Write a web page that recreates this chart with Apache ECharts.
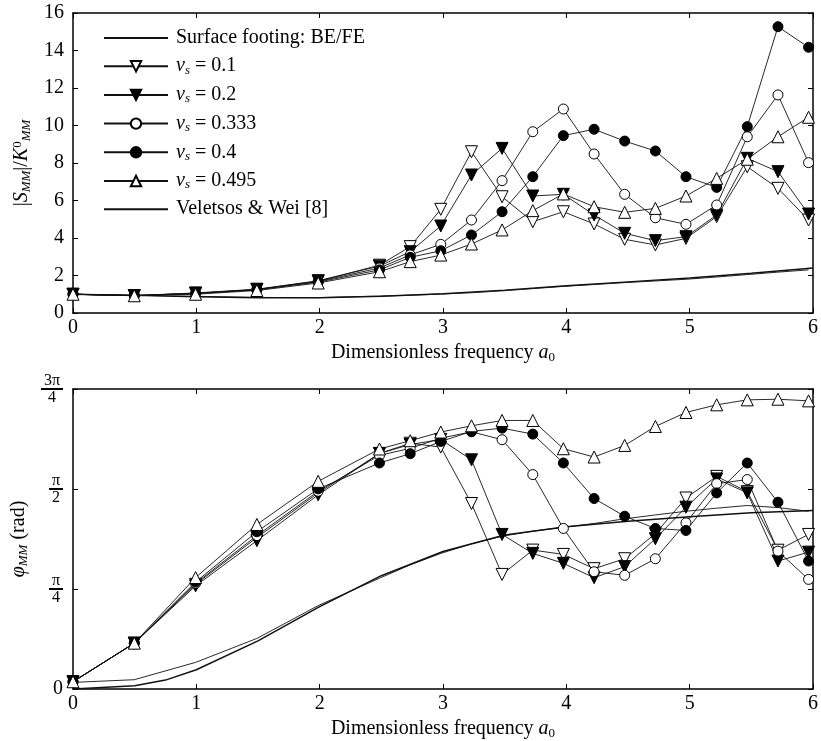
<!DOCTYPE html>
<html><head><meta charset="utf-8">
<script src="https://cdn.jsdelivr.net/npm/echarts@6/dist/echarts.min.js"></script>
<style>html,body{margin:0;padding:0;background:#fff}#c{width:821px;height:741px}</style>
</head><body><div id="c"></div>
<script>
// ---- data ----
const freq = [0, 0.497, 0.994, 1.491, 1.988, 2.485, 2.734, 2.982, 3.231, 3.479, 3.728, 3.976, 4.225, 4.473, 4.722, 4.970, 5.219, 5.467, 5.716, 5.964];
const velFreq = [0, 0.5, 0.75, 1, 1.5, 2, 2.5, 3, 3.5, 4, 4.5, 5, 5.5, 6];

const seriesNames = ['Surface footing: BE/FE', 'ν_s = 0.1', 'ν_s = 0.2', 'ν_s = 0.333', 'ν_s = 0.4', 'ν_s = 0.495', 'Veletsos & Wei [8]'];

// |S_MM| / K0_MM
const magBEFE  = [1.0, 0.95, 0.89, 0.83, 0.82, 0.90, 0.95, 1.01, 1.08, 1.18, 1.30, 1.42, 1.52, 1.62, 1.71, 1.80, 1.92, 2.05, 2.18, 2.30];
const magNu01  = [1.0, 0.93, 1.05, 1.25, 1.70, 2.55, 3.54, 5.53, 8.60, 6.20, 4.87, 5.40, 4.75, 3.93, 3.63, 3.98, 5.14, 7.80, 6.65, 4.96];
const magNu02  = [1.0, 0.93, 1.07, 1.27, 1.72, 2.50, 3.27, 4.64, 7.36, 8.78, 6.24, 6.33, 5.23, 4.25, 3.86, 4.07, 5.23, 8.25, 7.54, 5.28];
const magNu0333= [1.0, 0.93, 1.05, 1.25, 1.68, 2.40, 3.10, 3.66, 4.96, 7.06, 9.67, 10.88, 8.48, 6.33, 5.08, 4.73, 5.76, 9.40, 11.63, 8.02];
const magNu04  = [1.0, 0.93, 1.04, 1.24, 1.65, 2.30, 2.97, 3.32, 4.16, 5.40, 7.27, 9.46, 9.80, 9.17, 8.64, 7.27, 6.70, 9.94, 15.27, 14.17];
const magNu0495= [1.0, 0.92, 1.00, 1.20, 1.60, 2.20, 2.74, 3.09, 3.68, 4.43, 5.46, 6.35, 5.67, 5.37, 5.58, 6.24, 7.18, 8.20, 9.40, 10.44];
const magVel   = [1.0, 0.94, 0.90, 0.87, 0.81, 0.81, 0.89, 1.03, 1.22, 1.45, 1.66, 1.87, 2.12, 2.40];

// phi_MM (rad)
const phBEFE   = [0.052, 0.073, 0.209, 0.397, 0.655, 0.870, 0.975, 1.065, 1.140, 1.200, 1.240, 1.270, 1.300, 1.337, 1.367, 1.396, 1.420, 1.441, 1.425, 1.396];
const phNu01   = [0.057, 0.36, 0.822, 1.19, 1.54, 1.85, 1.93, 1.90, 1.457, 0.90, 1.091, 1.057, 0.945, 1.023, 1.22, 1.50, 1.67, 1.55, 1.09, 1.214];
const phNu02   = [0.057, 0.36, 0.81, 1.165, 1.525, 1.85, 1.92, 1.96, 1.80, 1.214, 1.065, 0.987, 0.874, 0.961, 1.18, 1.428, 1.65, 1.54, 1.005, 1.075];
const phNu0333 = [0.057, 0.36, 0.83, 1.205, 1.553, 1.835, 1.89, 1.97, 2.02, 1.958, 1.684, 1.261, 0.921, 0.893, 1.023, 1.305, 1.613, 1.645, 1.083, 0.861];
const phNu04   = [0.057, 0.36, 0.84, 1.235, 1.572, 1.775, 1.848, 1.944, 2.023, 2.049, 2.002, 1.775, 1.496, 1.357, 1.261, 1.245, 1.54, 1.775, 1.467, 1.005];
const phNu0495 = [0.057, 0.36, 0.875, 1.292, 1.631, 1.885, 1.95, 2.018, 2.067, 2.109, 2.109, 1.887, 1.822, 1.913, 2.062, 2.172, 2.232, 2.271, 2.276, 2.263];
const phVel    = [0, 0.026, 0.07, 0.151, 0.378, 0.647, 0.89, 1.08, 1.21, 1.275, 1.318, 1.352, 1.384, 1.402];

const xTicks = [0, 1, 2, 3, 4, 5, 6];
const magTicks = [0, 2, 4, 6, 8, 10, 12, 14, 16];
const phaseTickLabels = ['0', 'π/4', 'π/2', '3π/4'];

// ---- styling ----
const F = 'Liberation Serif, Times New Roman, serif';
const LC = '#111';
const LABEL_MARGIN = 10;
const markerStyles = [
  null,
  { symbol: 'triangle', rotate: 180, fill: '#fff', size: 12 },
  { symbol: 'triangle', rotate: 180, fill: '#000', size: 12 },
  { symbol: 'circle', rotate: 0, fill: '#fff', size: 10 },
  { symbol: 'circle', rotate: 0, fill: '#000', size: 10 },
  { symbol: 'triangle', rotate: 0, fill: '#fff', size: 12 },
  null
];

function pairs(xs, ys) { return xs.map((x, i) => [x, ys[i]]); }

function mk(idx, xs, ys, gi) {
  const ms = markerStyles[idx];
  const s = {
    name: seriesNames[idx], type: 'line', xAxisIndex: gi * 2, yAxisIndex: gi * 2,
    data: pairs(xs, ys), animation: false, z: 3,
    lineStyle: { color: LC, width: idx === 6 ? 1.5 : 0.9 }
  };
  if (ms) {
    s.symbol = ms.symbol; s.symbolSize = ms.size; s.symbolRotate = ms.rotate;
    s.showSymbol = true;
    s.itemStyle = { color: ms.fill, borderColor: '#000', borderWidth: 1 };
    s.z = 4;
  } else {
    s.symbol = 'none'; s.showSymbol = false;
    s.itemStyle = { color: 'rgba(0,0,0,0)', borderColor: 'rgba(0,0,0,0)', borderWidth: 0 };
  }
  return s;
}

const richName = {
  t: { fontSize: 20, fontFamily: F, color: '#000' },
  it: { fontSize: 20, fontFamily: F, fontStyle: 'italic', color: '#000' },
  sub: { fontSize: 13, fontFamily: F, fontStyle: 'italic', color: '#000', padding: [9, 0, 0, 0] },
  sub0: { fontSize: 13, fontFamily: F, color: '#000', padding: [9, 0, 0, 0] },
  sup: { fontSize: 13, fontFamily: F, color: '#000', padding: [0, 0, 9, 0] }
};

function xAxes(gi) {
  return [{
    gridIndex: gi, type: 'value', min: 0, max: 6, interval: 1, position: 'bottom',
    axisLine: { show: true, onZero: false, lineStyle: { color: '#000', width: 1.5 } },
    axisTick: { show: true, inside: true, length: 5, lineStyle: { color: '#000', width: 1 } },
    axisLabel: { show: true, fontSize: 20, fontFamily: F, color: '#000', margin: 5,
      formatter: v => xTicks.includes(v) ? String(v) : '' },
    splitLine: { show: false },
    name: 'Dimensionless frequency {it|a}{sub0|0}', nameLocation: 'middle', nameGap: 29,
    nameTextStyle: { fontSize: 20, fontFamily: F, color: '#000', rich: richName }
  }, {
    gridIndex: gi, type: 'value', min: 0, max: 6, interval: 1, position: 'top',
    axisLine: { show: true, onZero: false, lineStyle: { color: '#000', width: 1.5 } },
    axisTick: { show: true, inside: true, length: 5, lineStyle: { color: '#000', width: 1 } },
    axisLabel: { show: false }, splitLine: { show: false }
  }];
}

const FRAC_W_NARROW = 14, FRAC_W_WIDE = 22;
const fracRich = {
  n1: { fontSize: 16, lineHeight: 17, width: FRAC_W_NARROW, fontFamily: F, color: '#000', align: 'center' },
  d1: { fontSize: 16, lineHeight: 17, width: FRAC_W_NARROW, fontFamily: F, color: '#000', align: 'center' },
  n3: { fontSize: 16, lineHeight: 17, width: FRAC_W_WIDE, fontFamily: F, color: '#000', align: 'center' },
  d3: { fontSize: 16, lineHeight: 17, width: FRAC_W_WIDE, fontFamily: F, color: '#000', align: 'center' },
  z: { fontSize: 20, fontFamily: F, color: '#000' }
};

function fracWidth(lab) { return lab.split('/')[0].length > 1 ? FRAC_W_WIDE : FRAC_W_NARROW; }

function phaseLabel(v) {
  const k = Math.round(v / (Math.PI / 4));
  const lab = phaseTickLabels[k];
  if (!lab) return '';
  if (lab === '0') return '{z|0}';
  const parts = lab.split('/');
  const sfx = fracWidth(lab) === FRAC_W_WIDE ? '3' : '1';
  return '{n' + sfx + '|' + parts[0] + '}\n{d' + sfx + '|' + parts[1] + '}';
}

const option = {
  backgroundColor: '#fff',
  animation: false,
  grid: [
    { left: 73, right: 3, top: 13, height: 300, containLabel: false },
    { left: 73, right: 3, top: 389, height: 301, containLabel: false }
  ],
  legend: {
    show: true, left: 98, top: 23, orient: 'vertical',
    itemWidth: 64, itemHeight: 13, itemGap: 7.7,
    data: seriesNames,
    textStyle: { fontSize: 20, fontFamily: F, color: '#000', lineHeight: 20, padding: [0, 0, 0, 3],
      rich: {
        t: { fontSize: 20, fontFamily: F, color: '#000', lineHeight: 20 },
        it: { fontSize: 20, fontFamily: F, fontStyle: 'italic', color: '#000', lineHeight: 20 },
        sub: { fontSize: 13, fontFamily: F, fontStyle: 'italic', color: '#000', padding: [8, 0, 0, 0], lineHeight: 20 }
      } },
    formatter: name => {
      if (name.startsWith('ν_s')) return '{it|ν}{sub|s}{t|' + name.slice(3) + '}';
      return name;
    }
  },
  xAxis: [...xAxes(0), ...xAxes(1)],
  yAxis: [
    { gridIndex: 0, type: 'value', min: 0, max: 16, interval: 2, position: 'left',
      axisLine: { show: true, onZero: false, lineStyle: { color: '#000', width: 1.5 } },
      axisTick: { show: true, inside: true, length: 5, lineStyle: { color: '#000', width: 1 } },
      axisLabel: { fontSize: 20, fontFamily: F, color: '#000', margin: 9,
        formatter: v => magTicks.includes(v) ? String(v) : '' },
      splitLine: { show: false },
      name: '{t||}{it|S}{sub|MM}{t||/}{it|K}{sup|0}{sub|MM}', nameLocation: 'middle', nameGap: 36,
      nameTextStyle: { fontSize: 20, fontFamily: F, color: '#000', rich: richName } },
    { gridIndex: 0, type: 'value', min: 0, max: 16, interval: 2, position: 'right',
      axisLine: { show: true, onZero: false, lineStyle: { color: '#000', width: 1.5 } },
      axisTick: { show: true, inside: true, length: 5, lineStyle: { color: '#000', width: 1 } },
      axisLabel: { show: false }, splitLine: { show: false } },
    { gridIndex: 1, type: 'value', min: 0, max: 3 * Math.PI / 4, interval: Math.PI / 4, position: 'left',
      axisLine: { show: true, onZero: false, lineStyle: { color: '#000', width: 1.5 } },
      axisTick: { show: true, inside: true, length: 5, lineStyle: { color: '#000', width: 1 } },
      axisLabel: { fontSize: 16, fontFamily: F, color: '#000', margin: LABEL_MARGIN, formatter: phaseLabel, rich: fracRich },
      splitLine: { show: false },
      name: '{it|φ}{sub|MM}{t| (rad)}', nameLocation: 'middle', nameGap: 36,
      nameTextStyle: { fontSize: 20, fontFamily: F, color: '#000', rich: richName } },
    { gridIndex: 1, type: 'value', min: 0, max: 3 * Math.PI / 4, interval: Math.PI / 4, position: 'right',
      axisLine: { show: true, onZero: false, lineStyle: { color: '#000', width: 1.5 } },
      axisTick: { show: true, inside: true, length: 5, lineStyle: { color: '#000', width: 1 } },
      axisLabel: { show: false }, splitLine: { show: false } }
  ],
  series: [
    mk(0, freq, magBEFE, 0),
    mk(1, freq, magNu01, 0),
    mk(2, freq, magNu02, 0),
    mk(3, freq, magNu0333, 0),
    mk(4, freq, magNu04, 0),
    mk(5, freq, magNu0495, 0),
    mk(6, velFreq, magVel, 0),
    mk(0, freq, phBEFE, 1),
    mk(1, freq, phNu01, 1),
    mk(2, freq, phNu02, 1),
    mk(3, freq, phNu0333, 1),
    mk(4, freq, phNu04, 1),
    mk(5, freq, phNu0495, 1),
    mk(6, velFreq, phVel, 1)
  ]
};

const chart = echarts.init(document.getElementById('c'), null, { renderer: 'canvas' });
chart.setOption(option);

// fraction bars for the π tick labels, placed through the bottom grid's scales
const bars = [];
for (let k = 1; k < phaseTickLabels.length; k++) {
  const p = chart.convertToPixel({ gridIndex: 1 }, [0, k * Math.PI / 4]);
  if (!p || !isFinite(p[0]) || !isFinite(p[1])) continue;
  const w = fracWidth(phaseTickLabels[k]);
  const right = p[0] - LABEL_MARGIN;
  bars.push({ type: 'line', silent: true,
    shape: { x1: right - w, y1: p[1], x2: right, y2: p[1] },
    style: { stroke: '#000', lineWidth: 2 } });
}
chart.setOption({ graphic: bars });
</script>
</body></html>
